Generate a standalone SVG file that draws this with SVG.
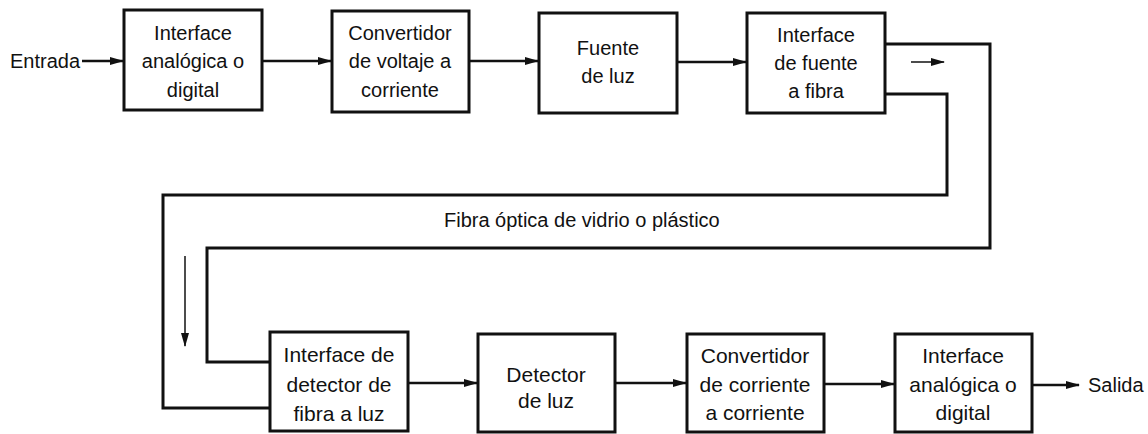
<svg xmlns="http://www.w3.org/2000/svg" width="1148" height="434" viewBox="0 0 1148 434">
<style>
.box{fill:#fff;stroke:#111;stroke-width:3}
.t{font-family:"Liberation Sans",Arial,sans-serif;font-size:20px;fill:#111;text-anchor:middle}
.tb{font-family:"Liberation Sans",Arial,sans-serif;font-size:21px;fill:#111;text-anchor:middle}
.l{font-family:"Liberation Sans",Arial,sans-serif;font-size:20px;fill:#111}
.c{fill:none;stroke:#111;stroke-width:2.5}
.f{fill:none;stroke:#111;stroke-width:3}
.thin{fill:none;stroke:#111;stroke-width:1.5}
</style>
<defs>
<marker id="ah" markerWidth="14" markerHeight="10" refX="13" refY="5" orient="auto" markerUnits="userSpaceOnUse">
<path d="M0,1 L14,5 L0,9 Z" fill="#111"/>
</marker>
</defs>
<rect width="1148" height="434" fill="#fff"/>
<g id="connectors">
<line class="c" x1="82" y1="61" x2="123" y2="61" marker-end="url(#ah)"/>
<line class="c" x1="262" y1="61" x2="331" y2="61" marker-end="url(#ah)"/>
<line class="c" x1="469" y1="61" x2="538" y2="61" marker-end="url(#ah)"/>
<line class="c" x1="677" y1="62" x2="746" y2="62" marker-end="url(#ah)"/>
<polyline class="f" points="885,44 990,44 990,248 207,248 207,362 270,362"/>
<polyline class="f" points="885,94 947,94 947,195 163,195 163,408 270,408"/>
<line class="thin" x1="911" y1="62" x2="944" y2="62" marker-end="url(#ah)"/>
<line class="thin" x1="185" y1="256" x2="185" y2="346" marker-end="url(#ah)"/>
<line class="c" x1="408" y1="383" x2="477" y2="383" marker-end="url(#ah)"/>
<line class="c" x1="615" y1="383" x2="686" y2="383" marker-end="url(#ah)"/>
<line class="c" x1="824" y1="384" x2="894" y2="384" marker-end="url(#ah)"/>
<line class="c" x1="1032" y1="385" x2="1079" y2="385" marker-end="url(#ah)"/>
</g>
<g id="entrada"><text class="l" x="10" y="68">Entrada</text></g>
<g id="salida"><text class="l" x="1088" y="392">Salida</text></g>
<g id="fibra"><text class="l" x="444" y="227">Fibra óptica de vidrio o plástico</text></g>
<g id="n1">
<rect class="box" x="124" y="10" width="138" height="100"/>
<text class="t" x="193" y="40">Interface</text>
<text class="t" x="193" y="68">analógica o</text>
<text class="t" x="193" y="97">digital</text>
</g>
<g id="n2">
<rect class="box" x="332" y="11" width="137" height="101"/>
<text class="t" x="400" y="40">Convertidor</text>
<text class="t" x="400" y="68">de voltaje a</text>
<text class="t" x="400" y="97">corriente</text>
</g>
<g id="n3">
<rect class="box" x="539" y="13" width="138" height="100"/>
<text class="t" x="608" y="55">Fuente</text>
<text class="t" x="608" y="83">de luz</text>
</g>
<g id="n4">
<rect class="box" x="747" y="13" width="138" height="100"/>
<text class="t" x="816" y="42">Interface</text>
<text class="t" x="816" y="70">de fuente</text>
<text class="t" x="816" y="98">a fibra</text>
</g>
<g id="n5">
<rect class="box" x="270" y="332" width="138" height="99"/>
<text class="tb" x="339" y="362">Interface de</text>
<text class="tb" x="339" y="392">detector de</text>
<text class="tb" x="339" y="421">fibra a luz</text>
</g>
<g id="n6">
<rect class="box" x="478" y="334" width="137" height="98"/>
<text class="tb" x="546" y="382">Detector</text>
<text class="tb" x="546" y="408">de luz</text>
</g>
<g id="n7">
<rect class="box" x="687" y="334" width="137" height="98"/>
<text class="tb" x="755" y="363">Convertidor</text>
<text class="tb" x="755" y="392">de corriente</text>
<text class="tb" x="755" y="420">a corriente</text>
</g>
<g id="n8">
<rect class="box" x="895" y="334" width="137" height="98"/>
<text class="tb" x="963" y="363">Interface</text>
<text class="tb" x="963" y="392">analógica o</text>
<text class="tb" x="963" y="420">digital</text>
</g>
</svg>
